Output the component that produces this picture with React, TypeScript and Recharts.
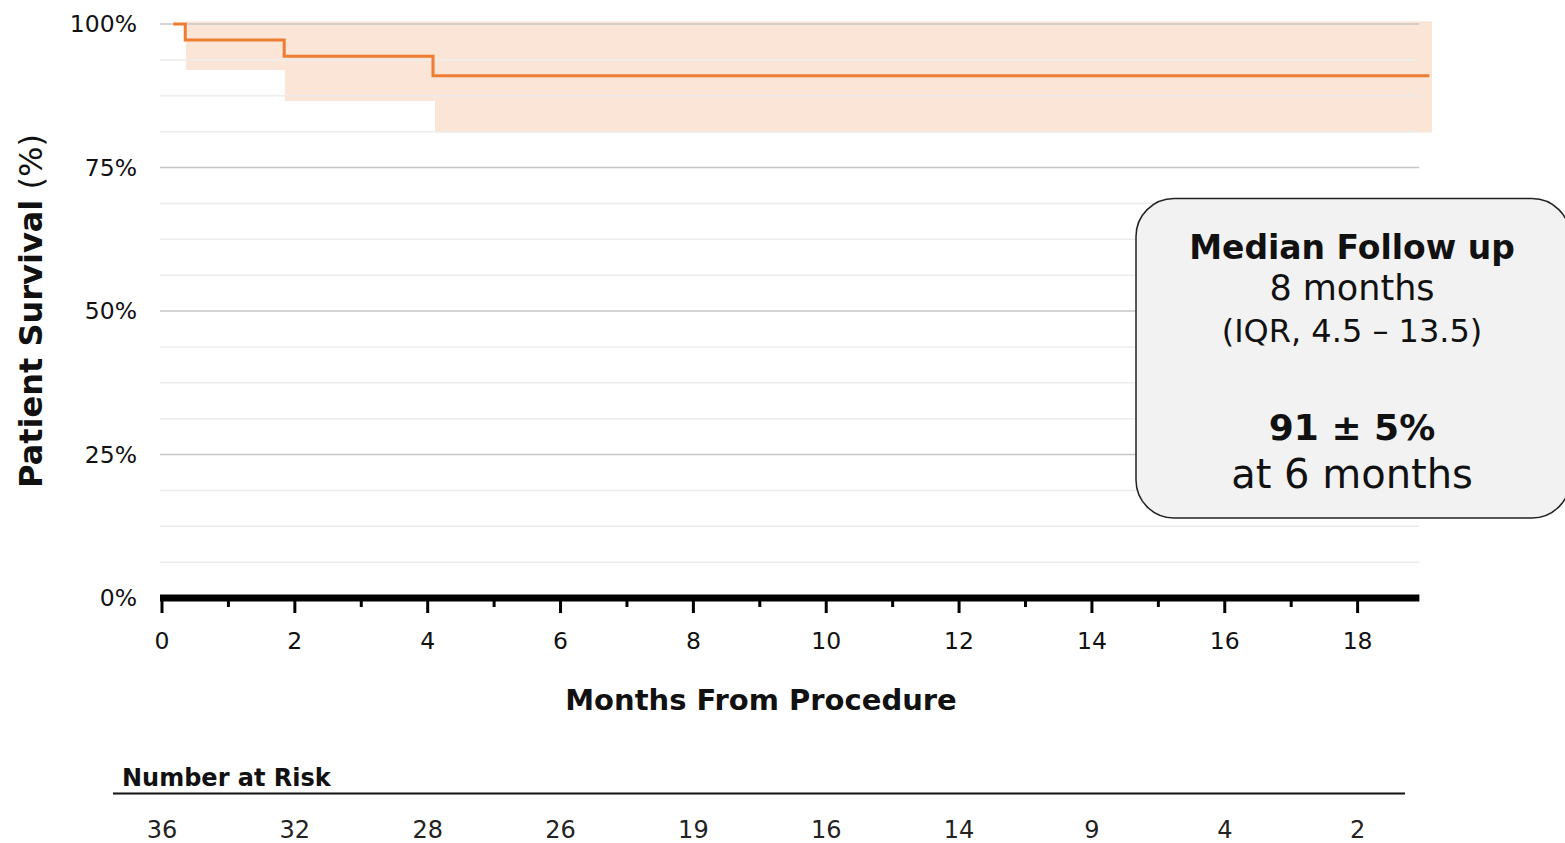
import { ComposedChart, Line, Area, XAxis, YAxis, ReferenceLine } from "recharts";

// Kaplan-Meier estimate (months, % surviving)
const kmMonths = [0.17, 0.35, 1.84, 4.08, 19.08];
const kmSurvival = [100, 97.2, 94.4, 91.0, 91.0];

// confidence band
const ciMonths = [0.36, 1.85, 4.11, 19.12];
const ciLower = [92.0, 86.6, 81.1, 81.1];
const ciUpper = [100.5, 100.5, 100.5, 100.5];

const yTicks = [0, 25, 50, 75, 100];
const gridMinor = [6.25, 12.5, 18.75, 31.25, 37.5, 43.75, 56.25, 62.5, 68.75, 81.25, 87.5, 93.75];
const gridMajor = [25, 50, 75, 100];
const monthTicks = [0, 1, 2, 3, 4, 5, 6, 7, 8, 9, 10, 11, 12, 13, 14, 15, 16, 17, 18];

const riskMonths = [0, 2, 4, 6, 8, 10, 12, 14, 16, 18];
const riskCounts = [36, 32, 28, 26, 19, 16, 14, 9, 4, 2];

const FONT = "'DejaVu Sans', sans-serif";
const ORANGE = "#ed7d31";

const kmData = kmMonths.map((t, i) => ({ t, s: kmSurvival[i] }));
const ciData = ciMonths.map((t, i) => ({ t, range: [ciLower[i], ciUpper[i]] }));

const MonthTick = (props: any) => {
  const { x, y, payload } = props;
  const m = payload.value as number;
  const major = m % 2 === 0;
  const idx = riskMonths.indexOf(m);
  return (
    <g>
      <line x1={x} x2={x} y1={y} y2={y + (major ? 15 : 9)} stroke="#000" strokeWidth={3} />
      {major && (
        <text x={x} y={y + 51} textAnchor="middle" fontSize={23.5} fill="#111" fontFamily={FONT}>
          {m}
        </text>
      )}
      {idx >= 0 && (
        <text x={x} y={y + 240} textAnchor="middle" fontSize={24} fill="#222" fontFamily={FONT}>
          {riskCounts[idx]}
        </text>
      )}
    </g>
  );
};

export default function App() {
  return (
    <div style={{ position: "absolute", left: 0, top: 0, width: 1565, height: 843, fontFamily: FONT }}>
      <ComposedChart
        width={1565}
        height={843}
        margin={{ top: 18.26, right: 131, bottom: 0, left: 0 }}
      >
        <XAxis
          type="number"
          dataKey="t"
          domain={[0, 19.15]}
          ticks={monthTicks}
          interval={0}
          axisLine={false}
          tickLine={false}
          tickSize={0}
          tickMargin={0}
          height={245}
          tick={<MonthTick />}
        />
        <YAxis
          type="number"
          domain={[0, 101]}
          ticks={yTicks}
          width={162}
          axisLine={false}
          tickLine={false}
          tickSize={0}
          tickMargin={25}
          tickFormatter={(v: number) => `${v}%`}
          tick={{ fontSize: 23.5, fill: "#111", fontFamily: FONT }}
        />
        {gridMinor.map((v) => (
          <ReferenceLine
            key={`n${v}`}
            segment={[{ x: -0.03, y: v }, { x: 18.93, y: v }]}
            stroke="#ececec"
            strokeWidth={1.5}
            ifOverflow="visible"
          />
        ))}
        {gridMajor.map((v) => (
          <ReferenceLine
            key={`j${v}`}
            segment={[{ x: -0.03, y: v }, { x: 18.93, y: v }]}
            stroke="#c6c6c6"
            strokeWidth={1.5}
            ifOverflow="visible"
          />
        ))}
        <Area
          data={ciData}
          dataKey="range"
          type="stepAfter"
          stroke="none"
          fill={ORANGE}
          fillOpacity={0.2}
          isAnimationActive={false}
          dot={false}
          activeDot={false}
        />
        <Line
          data={kmData}
          dataKey="s"
          type="stepAfter"
          stroke={ORANGE}
          strokeWidth={3}
          dot={false}
          activeDot={false}
          isAnimationActive={false}
        />
        <ReferenceLine
          segment={[{ x: -0.03, y: 0 }, { x: 18.93, y: 0 }]}
          stroke="#000"
          strokeWidth={7}
          ifOverflow="visible"
        />
      </ComposedChart>

      <svg
        width={1565}
        height={843}
        style={{ position: "absolute", left: 0, top: 0, pointerEvents: "none" }}
        fontFamily={FONT}
      >
        <text
          transform="translate(42, 311) rotate(-90)"
          textAnchor="middle"
          fontSize={32}
          fill="#111"
        >
          <tspan fontWeight="bold">Patient Survival</tspan>
          <tspan> (%)</tspan>
        </text>
        <text x={761} y={710} textAnchor="middle" fontSize={29} fontWeight="bold" fill="#111">
          Months From Procedure
        </text>
        <text x={122} y={786} fontSize={24} fontWeight="bold" fill="#111">
          Number at Risk
        </text>
        <line x1={113} x2={1405} y1={793.5} y2={793.5} stroke="#111" strokeWidth={2} />

        <rect x={1136} y={198.5} width={434} height={319.5} rx={38} fill="#f2f2f2" stroke="#222" strokeWidth={1.5} />
        <g textAnchor="middle" fill="#111">
          <text x={1352} y={259} fontSize={33} fontWeight="bold">Median Follow up</text>
          <text x={1352} y={300} fontSize={35}>8 months</text>
          <text x={1352} y={342} fontSize={32}>(IQR, 4.5 – 13.5)</text>
          <text x={1352} y={440} fontSize={36} fontWeight="bold">91 ± 5%</text>
          <text x={1352} y={488} fontSize={40}>at 6 months</text>
        </g>
      </svg>
    </div>
  );
}
